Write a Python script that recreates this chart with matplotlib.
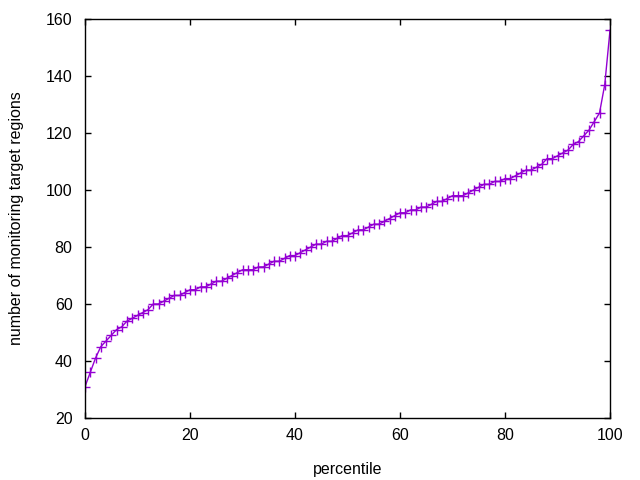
import numpy as np
import matplotlib.pyplot as plt

plt.rcParams['font.family'] = ['Liberation Sans', 'DejaVu Sans']

# percentile vs number of monitoring target regions
percentile = list(range(0, 101))
regions = [
    31, 36, 41, 45, 47, 49, 51, 52, 54, 55,
    56, 57, 58, 60, 60, 61, 62, 63, 63, 64,
    65, 65, 66, 66, 67, 68, 68, 69, 70, 71,
    72, 72, 72, 73, 73, 74, 75, 75, 76, 77,
    77, 78, 79, 80, 81, 81, 82, 82, 83, 84,
    84, 85, 86, 86, 87, 88, 88, 89, 90, 91,
    92, 92, 93, 93, 94, 94, 95, 96, 96, 97,
    98, 98, 98, 99, 100, 101, 102, 102, 103, 103,
    104, 104, 105, 106, 107, 107, 108, 109, 111, 111,
    112, 113, 114, 116, 117, 119, 121, 124, 127, 137,
    156,
]
xticks = [0, 20, 40, 60, 80, 100]
yticks = [20, 40, 60, 80, 100, 120, 140, 160]

fig = plt.figure(figsize=(6.4, 4.8), dpi=100)
ax = fig.add_axes([85 / 640, 1 - 418 / 480, 525 / 640, 399 / 480])

ax.plot(percentile, regions, color="#9400d3", linewidth=1,
        marker="+", markersize=7, markeredgewidth=1)

ax.set_xlim(0, 100)
ax.set_ylim(20, 160)
ax.set_xticks(xticks)
ax.set_yticks(yticks)
ax.tick_params(direction="in", length=4.5, width=1, top=True, right=True,
               labelsize=11.5)
ax.tick_params(axis="y", pad=9)
ax.tick_params(axis="x", pad=7)
for s in ax.spines.values():
    s.set_linewidth(1)

ax.set_xlabel("percentile", fontsize=11.5, labelpad=14)
ax.set_ylabel("number of monitoring target regions", fontsize=11.5, labelpad=16)

fig.savefig("out.png", dpi=100)
